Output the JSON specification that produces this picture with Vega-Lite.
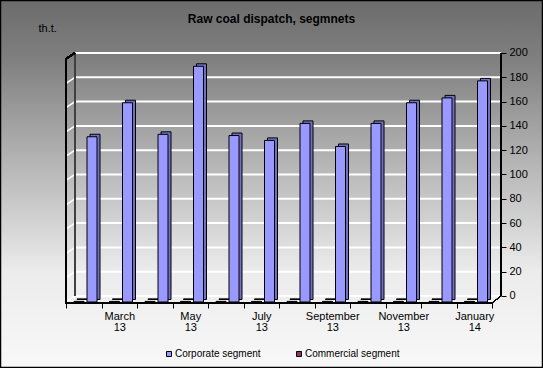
{
  "$schema": "https://vega.github.io/schema/vega-lite/v6.json",
  "width": 543,
  "height": 368,
  "autosize": {"type": "none"},
  "padding": 0,
  "background": "#f8f8f8",
  "view": {
    "fill": {"gradient": "linear", "x1": 0, "y1": 0, "x2": 0, "y2": 1,
      "stops": [
        {"offset": 0, "color": "#6c6c6c"},
        {"offset": 0.15, "color": "#7e7e7e"},
        {"offset": 0.45, "color": "#b6b6b6"},
        {"offset": 0.74, "color": "#ececec"},
        {"offset": 1, "color": "#f8f8f8"}
      ]},
    "stroke": "#000000",
    "strokeWidth": 2.5
  },
  "title": {
    "text": "Raw coal dispatch, segmnets",
    "font": "Liberation Sans",
    "fontSize": 12,
    "fontWeight": "bold",
    "color": "#000000",
    "anchor": "middle",
    "offset": 0,
    "dy": 26
  },
  "config": {
    "font": "Liberation Sans",
    "axis": {"labelFont": "Liberation Sans", "titleFont": "Liberation Sans", "labelColor": "#000000", "titleColor": "#000000", "labelOverlap": false},
    "axisY": {"labelOverlap": false, "tickCount": 11},
    "axisQuantitative": {"labelOverlap": false}
  },
  "datasets": {
    "bars": [
      {"month": "February 13", "series": "Corporate segment", "value": 136},
      {"month": "March 13", "series": "Corporate segment", "value": 164},
      {"month": "April 13", "series": "Corporate segment", "value": 138},
      {"month": "May 13", "series": "Corporate segment", "value": 194},
      {"month": "June 13", "series": "Corporate segment", "value": 137},
      {"month": "July 13", "series": "Corporate segment", "value": 133},
      {"month": "August 13", "series": "Corporate segment", "value": 147},
      {"month": "September 13", "series": "Corporate segment", "value": 128},
      {"month": "October 13", "series": "Corporate segment", "value": 147},
      {"month": "November 13", "series": "Corporate segment", "value": 164},
      {"month": "December 13", "series": "Corporate segment", "value": 168},
      {"month": "January 14", "series": "Corporate segment", "value": 182},
      {"month": "February 13", "series": "Commercial segment", "value": 0.5},
      {"month": "March 13", "series": "Commercial segment", "value": 0.5},
      {"month": "April 13", "series": "Commercial segment", "value": 0.5},
      {"month": "May 13", "series": "Commercial segment", "value": 0.5},
      {"month": "June 13", "series": "Commercial segment", "value": 0.5},
      {"month": "July 13", "series": "Commercial segment", "value": 0.5},
      {"month": "August 13", "series": "Commercial segment", "value": 0.5},
      {"month": "September 13", "series": "Commercial segment", "value": 0.5},
      {"month": "October 13", "series": "Commercial segment", "value": 0.5},
      {"month": "November 13", "series": "Commercial segment", "value": 0.5},
      {"month": "December 13", "series": "Commercial segment", "value": 0.5},
      {"month": "January 14", "series": "Commercial segment", "value": 0.5}
    ],
    "grid": [
      {"v": 0}, {"v": 20}, {"v": 40}, {"v": 60}, {"v": 80}, {"v": 100},
      {"v": 120}, {"v": 140}, {"v": 160}, {"v": 180}, {"v": 200}
    ]
  },
  "data": {"name": "bars"},
  "layer": [
    {
      "mark": {"type": "rect", "fill": "#a9a9a9"},
      "encoding": {
        "x": {"datum": "February 13", "type": "nominal", "bandPosition": 0,
          "scale": {"domain": ["February 13","March 13","April 13","May 13","June 13","July 13","August 13","September 13","October 13","November 13","December 13","January 14"],
            "paddingInner": 0, "paddingOuter": 0, "range": [66, 492]},
          "axis": {"orient": "bottom", "offset": -65, "domain": false, "grid": false, "title": null,
            "tickBand": "extent", "tickSize": 5, "tickColor": "#000000", "tickWidth": 1,
            "labelAngle": 0, "labelFontSize": 11, "labelPadding": 2, "labelLineHeight": 11, "labelBaseline": "top",
            "labelOverlap": false,
            "labelExpr": "indexof(['March 13','May 13','July 13','September 13','November 13','January 14'], datum.value) >= 0 ? split(datum.value, ' ') : ''"}},
        "x2": {"datum": "January 14", "bandPosition": 1},
        "y": {"datum": 0, "type": "quantitative",
          "scale": {"domain": [-59.26, 243.62], "nice": false, "zero": false},
          "axis": {"orient": "right", "offset": -42, "domain": false, "grid": false,
            "values": [0, 20, 40, 60, 80, 100, 120, 140, 160, 180, 200],
            "labelOverlap": false, "labelBound": false,
            "tickSize": 5, "tickColor": "#000000", "labelPadding": 3, "labelFontSize": 11, "labelAlign": "left",
            "title": "th.t.", "titleAngle": 0, "titleX": -463, "titleY": 28, "titleFontSize": 11, "titleFontWeight": "normal",
            "titleAlign": "left", "titleBaseline": "middle"}},
        "y2": {"datum": 0}
      }
    },
    {
      "data": {"name": "grid"},
      "mark": {"type": "rule", "color": "#ffffff", "strokeWidth": 2, "xOffset": 9, "x2Offset": 9},
      "encoding": {
        "x": {"datum": "February 13", "type": "nominal", "bandPosition": 0},
        "x2": {"datum": "January 14", "bandPosition": 1},
        "y": {"field": "v", "type": "quantitative"}
      }
    },
    {
      "data": {"name": "grid"},
      "mark": {"type": "rule", "color": "#ffffff", "strokeWidth": 1.5, "x2Offset": 9, "yOffset": 6},
      "encoding": {
        "x": {"datum": "February 13", "type": "nominal", "bandPosition": 0},
        "x2": {"datum": "February 13", "bandPosition": 0},
        "y": {"field": "v", "type": "quantitative"},
        "y2": {"field": "v"}
      }
    },
    {
      "mark": {"type": "rule", "color": "#404040", "strokeWidth": 1, "xOffset": 9},
      "encoding": {
        "x": {"datum": "February 13", "type": "nominal", "bandPosition": 0},
        "y": {"datum": 200, "type": "quantitative"},
        "y2": {"datum": 0}
      }
    },
    {
      "mark": {"type": "rule", "color": "#000000", "strokeWidth": 1.5, "x2Offset": 9, "yOffset": 6},
      "encoding": {
        "x": {"datum": "February 13", "type": "nominal", "bandPosition": 0},
        "x2": {"datum": "February 13", "bandPosition": 0},
        "y": {"datum": 200, "type": "quantitative"},
        "y2": {"datum": 200}
      }
    },
    {
      "mark": {"type": "rule", "color": "#000000", "strokeWidth": 2, "yOffset": 6, "y2Offset": 8},
      "encoding": {
        "x": {"datum": "February 13", "type": "nominal", "bandPosition": 0},
        "y": {"datum": 200, "type": "quantitative"},
        "y2": {"datum": 0}
      }
    },
    {
      "mark": {"type": "rule", "color": "#000000", "strokeWidth": 1.5, "xOffset": 9},
      "encoding": {
        "x": {"datum": "January 14", "type": "nominal", "bandPosition": 1},
        "y": {"datum": 200, "type": "quantitative"},
        "y2": {"datum": 0}
      }
    },
    {
      "mark": {"type": "rule", "color": "#000000", "strokeWidth": 1, "x2Offset": 9, "yOffset": 7},
      "encoding": {
        "x": {"datum": "January 14", "type": "nominal", "bandPosition": 1},
        "x2": {"datum": "January 14", "bandPosition": 1},
        "y": {"datum": 0, "type": "quantitative"},
        "y2": {"datum": 0}
      }
    },
    {
      "mark": {"type": "rule", "color": "#000000", "strokeWidth": 1.5, "yOffset": 7},
      "encoding": {
        "x": {"datum": "February 13", "type": "nominal", "bandPosition": 0},
        "x2": {"datum": "January 14", "bandPosition": 1},
        "y": {"datum": 0, "type": "quantitative"}
      }
    },
    {
      "transform": [{"filter": "datum.series === 'Commercial segment'"}],
      "mark": {"type": "bar", "width": 10, "xOffset": -1.75, "yOffset": 3.5, "y2Offset": 3.5, "fill": "#662244", "stroke": "#000000", "strokeWidth": 1},
      "encoding": {
        "x": {"field": "month", "type": "nominal"},
        "y": {"field": "value", "type": "quantitative"}
      }
    },
    {
      "transform": [{"filter": "datum.series === 'Commercial segment'"}],
      "mark": {"type": "bar", "width": 10, "xOffset": -4.75, "yOffset": 6, "y2Offset": 6, "stroke": "#000000", "strokeWidth": 1},
      "encoding": {
        "x": {"field": "month", "type": "nominal"},
        "y": {"field": "value", "type": "quantitative"},
        "color": {"field": "series", "type": "nominal",
          "scale": {"domain": ["Corporate segment", "Commercial segment"], "range": ["#9999ff", "#993366"]},
          "legend": {"orient": "none", "legendX": 164, "legendY": 349, "direction": "horizontal", "title": null,
            "symbolType": "square", "symbolSize": 25, "symbolStrokeColor": "#000000", "symbolStrokeWidth": 1,
            "labelFont": "Liberation Sans", "labelFontSize": 10, "labelColor": "#000000", "labelOffset": 1, "columnPadding": 33}}
      }
    },
    {
      "transform": [{"filter": "datum.series === 'Corporate segment'"}],
      "mark": {"type": "bar", "width": 10, "xOffset": 11.25, "yOffset": 3.5, "y2Offset": 3.5, "fill": "#7070c4", "stroke": "#000000", "strokeWidth": 1},
      "encoding": {
        "x": {"field": "month", "type": "nominal"},
        "y": {"field": "value", "type": "quantitative"}
      }
    },
    {
      "transform": [{"filter": "datum.series === 'Corporate segment'"}],
      "mark": {"type": "bar", "width": 10, "xOffset": 8.25, "yOffset": 6, "y2Offset": 6, "stroke": "#000000", "strokeWidth": 1},
      "encoding": {
        "x": {"field": "month", "type": "nominal"},
        "y": {"field": "value", "type": "quantitative"},
        "color": {"field": "series", "type": "nominal"}
      }
    }
  ]
}
